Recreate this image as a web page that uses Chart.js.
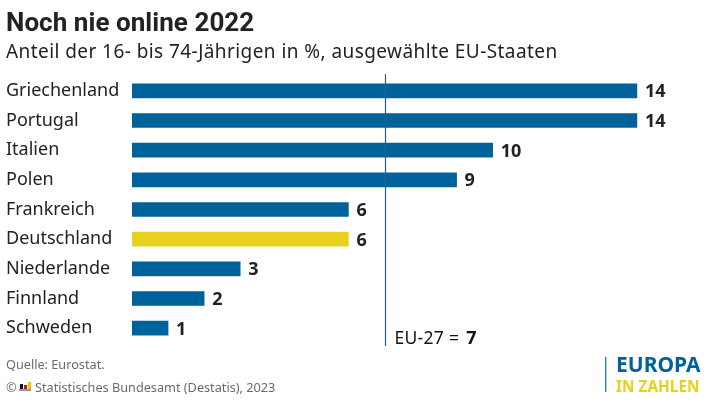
<!DOCTYPE html>
<html><head><meta charset="utf-8">
<script src="https://cdn.jsdelivr.net/npm/chart.js@4"></script>
<style>html,body{margin:0;padding:0;background:#fff}#w{width:710px;height:404px}</style>
</head><body><div id="w"><canvas id="c" width="710" height="404"></canvas></div>
<script>
const categories = ['Griechenland','Portugal','Italien','Polen','Frankreich','Deutschland','Niederlande','Finnland','Schweden'];
const values = [14,14,10,9,6,6,3,2,1];
const highlighted = 'Deutschland';
const euValue = 7;
const euPrefix = 'EU-27 = ';
const titleText = 'Noch nie online 2022';
const subtitleText = 'Anteil der 16- bis 74-Jährigen in %, ausgewählte EU-Staaten';
const sourceText = 'Quelle: Eurostat.';
const copyrightMark = '©';
const copyrightText = 'Statistisches Bundesamt (Destatis), 2023';
const logoTop = 'EUROPA';
const logoBottom = 'IN ZAHLEN';

const FONT = '"Noto Sans","Open Sans",sans-serif';
const BLUE = '#00629b', YELLOW = '#e6d21c', DARK = '#222222', GREY = '#6b6b6b';

const overlay = {
  id: 'overlay',
  afterDatasetsDraw(chart) {
    const {ctx, scales} = chart;
    const x = scales.x;
    ctx.save();
    // value labels
    ctx.textBaseline = 'middle'; ctx.textAlign = 'left';
    ctx.fillStyle = DARK; ctx.font = '700 18px ' + FONT;
    const meta = chart.getDatasetMeta(0);
    meta.data.forEach((bar, i) => ctx.fillText(String(values[i]), bar.x + 8, bar.y + 1.5));
    // EU reference line
    const ex = Math.round(x.getPixelForValue(euValue)) + 1.5;
    ctx.strokeStyle = '#1f5f8b'; ctx.lineWidth = 1.2;
    ctx.beginPath(); ctx.moveTo(ex, 74); ctx.lineTo(ex, 346); ctx.stroke();
    ctx.fillStyle = '#111'; ctx.font = '400 17.5px ' + FONT;
    ctx.letterSpacing = '0.3px';
    ctx.fillText(euPrefix, ex + 9, 339);
    const w = ctx.measureText(euPrefix).width;
    ctx.letterSpacing = '0px';
    ctx.font = '700 18px ' + FONT;
    ctx.fillText(String(euValue), ex + 9 + w + 2, 339);
    // title
    ctx.textBaseline = 'alphabetic';
    ctx.fillStyle = DARK; ctx.font = '700 26px Roboto,' + FONT;
    ctx.letterSpacing = '0.05px';
    ctx.fillText(titleText, 6, 31);
    ctx.font = '400 19px ' + FONT;
    ctx.letterSpacing = '0.43px';
    ctx.fillText(subtitleText, 6, 58);
    ctx.letterSpacing = '0px';
    // footer
    ctx.fillStyle = GREY; ctx.font = '400 12.7px ' + FONT;
    ctx.fillText(sourceText, 6, 369);
    ctx.fillText(copyrightMark, 6, 392);
    ctx.fillText(copyrightText, 35, 392);
    ctx.fillStyle = '#999'; ctx.fillRect(19, 389, 12, 2);
    ctx.fillStyle = '#111'; ctx.fillRect(20, 384, 3, 5);
    ctx.fillStyle = '#c8102e'; ctx.fillRect(24, 385, 3, 4);
    ctx.fillStyle = '#f2c200'; ctx.fillRect(28, 382, 3, 7);
    // logo
    ctx.fillStyle = '#2a7fae'; ctx.fillRect(605, 357, 1.4, 35);
    ctx.fillStyle = BLUE; ctx.font = '700 21px ' + FONT;
    ctx.fillText(logoTop, 616, 372);
    ctx.fillStyle = YELLOW; ctx.font = '700 15.4px ' + FONT;
    ctx.fillText(logoBottom, 616, 392);
    ctx.restore();
  }
};

new Chart(document.getElementById('c'), {
  type: 'bar',
  data: { labels: categories, datasets: [{
    data: values,
    backgroundColor: categories.map(c => c === highlighted ? YELLOW : BLUE),
    barThickness: 14, borderWidth: 0
  }]},
  options: {
    indexAxis: 'y', responsive: false, animation: false, devicePixelRatio: 1,
    layout: { padding: { left: 6, right: 19, top: 76, bottom: 61 } },
    plugins: { legend: {display:false}, tooltip: {enabled:false}, title:{display:false} },
    scales: {
      x: { display: false, min: 0, max: 15.5 },
      y: {
        afterFit(s){ s.width = 126; },
        border: {display:false}, grid: {display:false},
        ticks: { crossAlign: 'far', padding: 0, autoSkip: false, color: '#222', font: {family: FONT, size: 18} }
      }
    }
  },
  plugins: [overlay]
});
</script></body></html>
